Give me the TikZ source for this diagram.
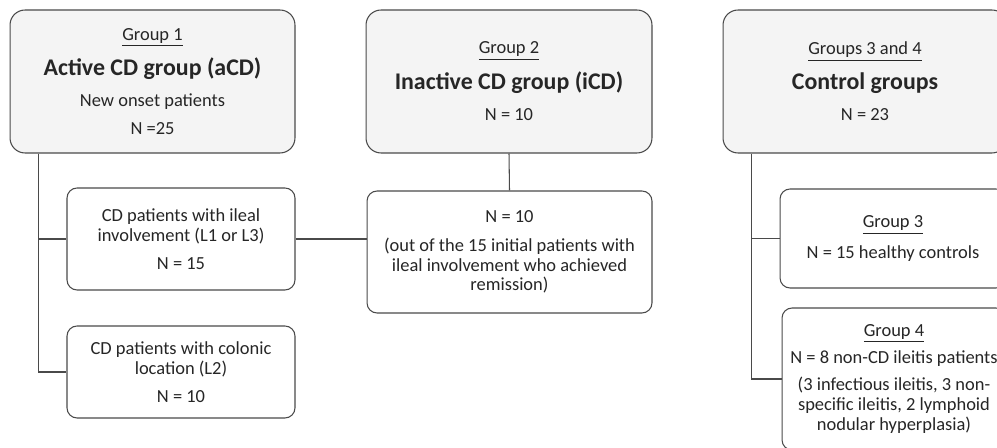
\documentclass[tikz,border=0pt]{standalone}
\usepackage{fontspec}
\setmainfont{Carlito}
\definecolor{boxfill}{HTML}{F4F4F4}
\definecolor{boxline}{HTML}{4A4A4A}
\definecolor{textdark}{HTML}{262626}
\newcommand{\grouptitle}[1]{{\fontsize{13.6}{17}\selectfont\bfseries #1}}
\begin{document}
\begin{tikzpicture}[x=0.02cm,y=-0.02cm,
  groupbox/.style={draw=boxline, fill=boxfill, rounded corners=0.3cm, line width=0.6pt,
    minimum width=5.7cm, minimum height=2.86cm, align=center, text=textdark,
    font=\fontsize{10.5}{11.3}\selectfont},
  subbox/.style={draw=boxline, fill=white, rounded corners=0.2cm, line width=0.6pt,
    align=center, text=textdark, font=\fontsize{10.5}{11.3}\selectfont},
  link/.style={draw=boxline, line width=0.6pt}]
\path[use as bounding box, clip] (0,0) rectangle (997,448);
\node[groupbox] (aCD) at (152.5,81.5) {\underline{Group 1}\\[5.5pt]\grouptitle{Active CD group (aCD)}\\[6pt]New onset patients\\[5pt]N =25};
\node[groupbox, minimum width=5.72cm] (iCD) at (509,81.5) {\underline{Group 2}\\[5.5pt]\grouptitle{Inactive CD group (iCD)}\\[6.5pt]N = 10};
\node[groupbox, minimum width=5.68cm] (ctrl) at (865,81.5) {\underline{Groups 3 and 4}\\[5.5pt]\grouptitle{Control groups}\\[6.5pt]N = 23};
\node[subbox, minimum width=4.56cm, minimum height=2.04cm] (ileal) at (181,239) {CD patients with ileal\\involvement (L1 or L3)\\[4.5pt]N = 15};
\node[subbox, minimum width=4.56cm, minimum height=1.84cm] (colonic) at (181,372) {CD patients with colonic\\location (L2)\\[4.5pt]N = 10};
\node[subbox, minimum width=5.7cm, minimum height=2.44cm] (remission) at (509.5,252) {N = 10\\[5pt](out of the 15 initial patients with\\ileal involvement who achieved\\remission)};
\node[subbox, minimum width=4.52cm, minimum height=1.98cm] (healthy) at (893,238.5) {\underline{Group 3}\\[6pt]N = 15 healthy controls};
\node[subbox, minimum width=4.48cm, minimum height=2.84cm] (ileitis) at (894,379) {\underline{Group 4}\\[4pt]N = 8 non-CD ileitis patients\\[4.5pt](3 infectious ileitis, 3 non-\\specific ileitis, 2 lymphoid\\nodular hyperplasia)};
\draw[link] ([xshift=0.58cm]aCD.south west) |- (ileal.west);
\draw[link] ([xshift=0.58cm]aCD.south west) |- (colonic.west);
\draw[link] (ileal.east) -- (ileal.east -| remission.west);
\draw[link] (iCD.south) -- (remission.north);
\draw[link] ([xshift=0.58cm]ctrl.south west) |- (healthy.west);
\draw[link] ([xshift=0.58cm]ctrl.south west) |- (ileitis.west);
\end{tikzpicture}
\end{document}
